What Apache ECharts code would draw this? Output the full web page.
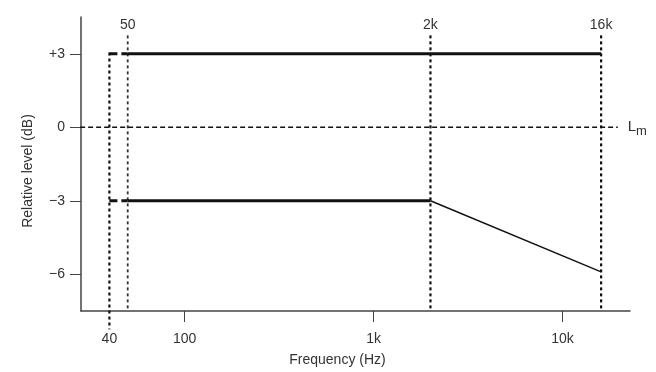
<!DOCTYPE html>
<html>
<head>
<meta charset="utf-8">
<script src="https://cdn.jsdelivr.net/npm/echarts@6.0.0/dist/echarts.min.js"></script>
<style>
  html, body { margin: 0; padding: 0; background: #fff; }
  #chart { width: 656px; height: 372px; }
</style>
</head>
<body>
<div id="chart"></div>
<script>
// axis labels
const bottomFreqs = [40, 100, 1000, 10000];
const bottomLabels = ['40', '100', '1k', '10k'];
const tickFreqs = [100, 1000, 10000];
const topFreqs = [50, 2000, 16000];
const topLabels = ['50', '2k', '16k'];
const levelTicks = [3, 0, -3, -6];
const levelLabels = ['+3', '0', '\u22123', '\u22126'];

// curves [freq, dB]
const upperDashed = [[40, 3], [50, 3]];
const upperSolid = [[50, 3], [16000, 3]];
const lowerDashed = [[40, -3], [50, -3]];
const lowerSolid = [[50, -3], [2000, -3]];
const rollOff = [[2000, -3], [16000, -5.9]];
const refLevel = [[28, 0], [19600, 0]];

// vertical dotted markers [freq, top dB, bottom dB]
const markers = [
  [40, 3.05, -8.25],
  [50, 3.75, -7.5],
  [2000, 3.75, -7.5],
  [16000, 3.75, -7.5]
];

const FONT = 'Liberation Sans, Arial, sans-serif';
const TXT = '#333';
const AX = '#444';
const fmt = (vals, labels) => (v) => {
  const i = vals.findIndex(f => Math.abs(f - v) <= Math.abs(f) * 0.01 + 1e-6);
  return i < 0 ? '' : labels[i];
};

var chart = echarts.init(document.getElementById('chart'));

const series = [];
const addLine = (data, width, type, extra) => {
  series.push(Object.assign({
    type: 'line',
    data: data,
    showSymbol: false,
    symbol: 'none',
    silent: true,
    lineStyle: { color: '#111', width: width, type: type }
  }, extra || {}));
};

markers.forEach(m => {
  const thin = m[0] === 50;
  addLine([[m[0], m[1]], [m[0], m[2]]], thin ? 1.8 : 2.2, [3, 3], {
    clip: false,
    lineStyle: { color: thin ? '#333' : '#111', width: thin ? 1.8 : 2.2, type: [3, 3] }
  });
});
addLine(refLevel, 1.5, [5, 3], {
  endLabel: {
    show: true,
    distance: 10,
    formatter: '{l|L}{m|m}',
    rich: {
      l: { fontFamily: FONT, fontSize: 15, color: TXT },
      m: { fontFamily: FONT, fontSize: 13, color: TXT, padding: [8, 0, 0, 0] }
    }
  }
});
addLine(upperDashed, 3, [8, 4]);
addLine(upperSolid, 3, 'solid');
addLine(lowerDashed, 3, [8, 4]);
addLine(lowerSolid, 3, 'solid');
addLine(rollOff, 1.4, 'solid');

const option = {
  animation: false,
  backgroundColor: '#fff',
  grid: { left: 81, right: 26, top: 17, bottom: 60 },
  xAxis: [
    {
      type: 'log',
      min: 28.3,
      max: 22750,
      name: 'Frequency (Hz)',
      nameLocation: 'middle',
      nameGap: 42,
      nameTextStyle: { fontFamily: FONT, fontSize: 14, color: TXT, padding: [0, 36, 0, 0] },
      axisLine: { show: true, onZero: false, lineStyle: { color: AX, width: 1.5 } },
      axisTick: { show: true, length: 11, customValues: tickFreqs, lineStyle: { color: AX } },
      axisLabel: {
        customValues: bottomFreqs,
        margin: 21,
        fontFamily: FONT, fontSize: 14, color: TXT,
        formatter: fmt(bottomFreqs, bottomLabels)
      },
      splitLine: { show: false },
      minorTick: { show: false }
    },
    {
      type: 'log',
      position: 'top',
      min: 28.3,
      max: 22750,
      axisLine: { show: false },
      axisTick: { show: false },
      axisLabel: {
        inside: true,
        customValues: topFreqs,
        margin: 1,
        fontFamily: FONT, fontSize: 14, color: TXT,
        formatter: fmt(topFreqs, topLabels)
      },
      splitLine: { show: false }
    }
  ],
  yAxis: {
    type: 'value',
    min: -7.5,
    max: 4.5,
    name: 'Relative level (dB)',
    nameLocation: 'middle',
    nameGap: 46,
    nameTextStyle: { fontFamily: FONT, fontSize: 14, color: TXT, padding: [0, 14, 0, 0] },
    axisLine: { show: true, onZero: false, lineStyle: { color: AX, width: 1.5 } },
    axisTick: { show: true, length: 11, customValues: levelTicks, lineStyle: { color: AX } },
    axisLabel: {
      customValues: levelTicks,
      margin: 16,
      fontFamily: FONT, fontSize: 14, color: TXT,
      formatter: fmt(levelTicks, levelLabels)
    },
    splitLine: { show: false }
  },
  series: series
};

chart.setOption(option);
</script>
</body>
</html>
